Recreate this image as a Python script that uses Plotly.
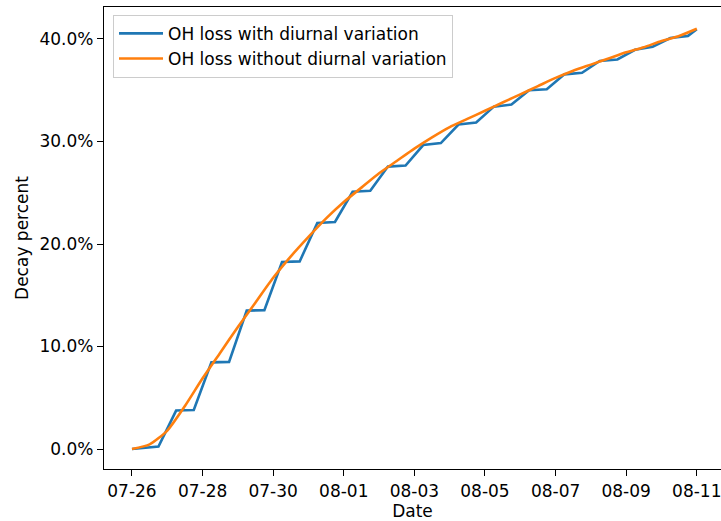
import numpy as np
import pandas as pd
import plotly.graph_objects as go

start = pd.Timestamp("2021-07-26")

# Blue series: OH loss with diurnal variation (day offset from 07-26, percent)
blue_days = [0, 0.75, 1.25, 1.75, 2.25, 2.75, 3.25, 3.75, 4.25, 4.75, 5.25, 5.75,
             6.25, 6.75, 7.25, 7.75, 8.25, 8.75, 9.25, 9.75, 10.25, 10.75, 11.25,
             11.75, 12.25, 12.75, 13.25, 13.75, 14.25, 14.75, 15.25, 15.75, 16.0]
blue_vals = [0.0, 0.25, 3.75, 3.8, 8.45, 8.5, 13.5, 13.55, 18.25, 18.3, 22.05, 22.15,
             25.1, 25.2, 27.55, 27.65, 29.65, 29.85, 31.65, 31.85, 33.4, 33.6, 35.0,
             35.1, 36.55, 36.7, 37.85, 38.0, 38.95, 39.25, 40.1, 40.3, 40.95]

# Orange series: OH loss without diurnal variation
orange_days = [0, 0.5, 1.0, 1.5, 2.0, 2.5, 3.0, 3.5, 4.0, 4.5, 5.0, 5.5, 6.0, 6.5,
               7.0, 7.5, 8.0, 8.5, 9.0, 9.5, 10.0, 10.5, 11.0, 11.5, 12.0, 12.5,
               13.0, 13.5, 14.0, 14.5, 15.0, 15.5, 16.0]
orange_vals = [0.0, 0.45, 1.8, 4.2, 6.9, 9.4, 11.9, 14.3, 16.7, 18.8, 20.7, 22.5,
               24.1, 25.5, 26.9, 28.1, 29.3, 30.4, 31.4, 32.2, 33.0, 33.8, 34.6,
               35.4, 36.2, 36.9, 37.5, 38.1, 38.7, 39.2, 39.8, 40.3, 41.0]

# X tick labels (every two days)
tick_days = [0, 2, 4, 6, 8, 10, 12, 14, 16]
tick_labels = ["07-26", "07-28", "07-30", "08-01", "08-03", "08-05", "08-07", "08-09", "08-11"]

blue_x = [start + pd.Timedelta(days=d) for d in blue_days]
orange_x = [start + pd.Timedelta(days=d) for d in orange_days]
tick_x = [start + pd.Timedelta(days=d) for d in tick_days]

FONT = "DejaVu Sans"
FS = 17

fig = go.Figure()
fig.add_trace(go.Scatter(x=blue_x, y=blue_vals, mode="lines",
                         name="OH loss with diurnal variation",
                         line=dict(color="#1f77b4", width=2.6)))
fig.add_trace(go.Scatter(x=orange_x, y=orange_vals, mode="lines",
                         name="OH loss without diurnal variation",
                         line=dict(color="#ff7f0e", width=2.6, shape="spline", smoothing=0.6)))

x_left = start + pd.Timedelta(days=-0.793)
x_right = start + pd.Timedelta(days=16.686)

fig.update_layout(
    width=721, height=521,
    margin=dict(l=104, r=0, t=7, b=52),
    paper_bgcolor="white", plot_bgcolor="white",
    font=dict(family=FONT, size=FS, color="black"),
    showlegend=True,
    legend=dict(x=0.0146, y=0.983, xanchor="left", yanchor="top",
                bgcolor="rgba(255,255,255,0.8)", bordercolor="#cccccc", borderwidth=1,
                font=dict(family=FONT, size=FS), tracegroupgap=0, itemwidth=44),
    xaxis=dict(range=[x_left, x_right], type="date",
               tickmode="array", tickvals=tick_x, ticktext=tick_labels,
               ticklabeloverflow="allow",
               showgrid=False, zeroline=False,
               showline=True, linecolor="black", linewidth=1.3, mirror=True,
               ticks="outside", ticklen=6, tickwidth=1.3, tickcolor="black",
               tickfont=dict(size=FS),
               title=dict(text="Date", standoff=4, font=dict(size=FS))),
    yaxis=dict(range=[-1.95, 43.12], tickmode="array",
               tickvals=[0, 10, 20, 30, 40],
               ticktext=["0.0%", "10.0%", "20.0%", "30.0%", "40.0%"],
               showgrid=False, zeroline=False,
               showline=True, linecolor="black", linewidth=1.3,
               ticks="outside", ticklen=6, tickwidth=1.3, tickcolor="black",
               tickfont=dict(size=FS),
               title=dict(text="Decay percent", standoff=6, font=dict(size=FS))),
)

fig.write_html("out.html")
